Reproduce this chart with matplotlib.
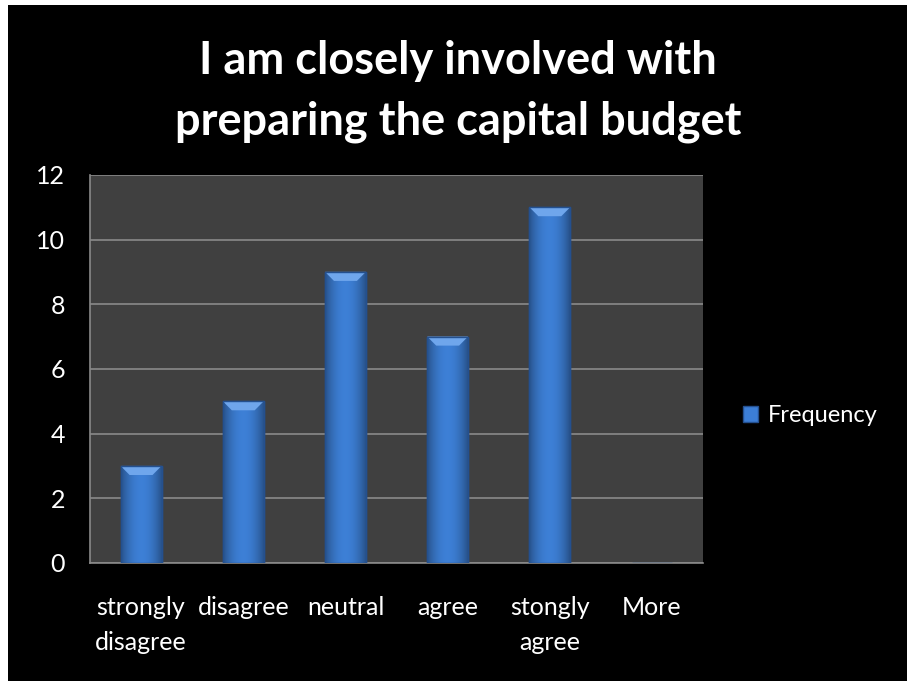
import numpy as np
import matplotlib.pyplot as plt
from matplotlib.patches import Rectangle, Polygon

# Survey responses
categories = ['strongly\ndisagree', 'disagree', 'neutral', 'agree', 'stongly\nagree', 'More']
frequency = [3, 5, 9, 7, 11, 0]
yticks = [0, 2, 4, 6, 8, 10, 12]

plt.rcParams['font.family'] = ['Lato', 'DejaVu Sans']

fig = plt.figure(figsize=(9.07, 6.81), dpi=100, facecolor='black')
ax = fig.add_axes([0.0992, 0.1733, 0.676, 0.570])
ax.set_facecolor('#404040')

x = np.arange(len(categories))
width = 0.4
bars = ax.bar(x, frequency, width=width, color='#3c7ed6', edgecolor='#24508f',
              linewidth=1.0, zorder=3, label='Frequency')

# horizontal shading on each bar plus a lighter bevel at the top
grad = np.linspace(0, 1, 64)
shade = 1 - 0.35 * (2 * np.abs(grad - 0.5)) ** 2
img = np.zeros((1, 64, 3))
base = np.array([0.24, 0.50, 0.84])
img[0] = base[None, :] * shade[:, None]
for b in bars:
    h = b.get_height()
    if h <= 0:
        continue
    x0, w = b.get_x(), b.get_width()
    im = ax.imshow(img, extent=[x0, x0 + w, 0, h], aspect='auto', zorder=3.5,
                   interpolation='bilinear')
    im.set_clip_path(b)
    bev = 0.28
    top = Polygon([[x0, h], [x0 + w, h], [x0 + w - w * 0.22, h - bev], [x0 + w * 0.22, h - bev]],
                  closed=True, facecolor='#6fa6ec', edgecolor='none', zorder=4)
    ax.add_patch(top)
    ax.add_patch(Rectangle((x0, 0), w, h, facecolor='none', edgecolor='#24508f',
                           linewidth=1.0, zorder=4.5))

ax.set_xlim(-0.5, len(categories) - 0.5)
ax.set_ylim(0, 12)
ax.set_yticks(yticks)
ax.set_xticks(x)
ax.set_xticklabels(categories, color='white', fontsize=18, linespacing=1.6)
ax.tick_params(axis='y', colors='white', labelsize=18, length=0, pad=18)
ax.tick_params(axis='x', length=0, pad=24)
ax.grid(axis='y', color='#8a8a8a', linewidth=1.2, zorder=1)
for side in ['top', 'right']:
    ax.spines[side].set_visible(False)
for side in ['left', 'bottom']:
    ax.spines[side].set_color('#8a8a8a')
    ax.spines[side].set_linewidth(1.2)

fig.text(0.505, 0.866, 'I am closely involved with\npreparing the capital budget',
         ha='center', va='center', color='white', fontsize=32.5, fontweight='bold',
         linespacing=1.55)

leg = ax.legend(loc='center left', bbox_to_anchor=(1.065, 0.38), frameon=False,
                fontsize=17, handlelength=0.65, handleheight=0.65, handletextpad=0.4,
                borderaxespad=0, borderpad=0)
for t in leg.get_texts():
    t.set_color('white')

# white strips along the top and left edges
fig.patches.append(Rectangle((0, 1 - 5 / 681), 1, 5 / 681, transform=fig.transFigure,
                             facecolor='white', edgecolor='none', zorder=10))
fig.patches.append(Rectangle((0, 0), 8 / 907, 1, transform=fig.transFigure,
                             facecolor='white', edgecolor='none', zorder=10))

fig.savefig('out.png', dpi=100, facecolor='black')
